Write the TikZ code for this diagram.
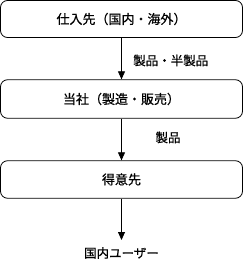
\documentclass[tikz,border=0pt]{standalone}
\usepackage{fontspec}
\setmainfont{Noto Sans CJK JP}[FakeBold=0.6,AutoFakeBold=0.6]
\usetikzlibrary{arrows.meta}
\begin{document}
\begin{tikzpicture}[x=1pt,y=1pt,
  boxstyle/.style={draw=black,line width=0.8pt,rounded corners=7pt,minimum width=242pt,inner sep=0pt,font=\fontsize{13}{15}\bfseries\selectfont},
  flow/.style={draw=black,line width=0.8pt,-{Triangle[length=8pt,width=7pt]}},
  lbl/.style={font=\fontsize{12.5}{14}\bfseries\selectfont,inner sep=0pt}]
\useasboundingbox (0,0) rectangle (243,-261);
\node[boxstyle,minimum height=37pt] (b1) at (121.5,-19) {仕入先（国内・海外）};
\node[boxstyle,minimum height=38.5pt] (b2) at (121.5,-99) {当社（製造・販売）};
\node[boxstyle,minimum height=37.5pt] (b3) at (121.5,-179.5) {得意先};
\coordinate (end) at (121.5,-240);
\node[font=\fontsize{12.5}{14}\bfseries\selectfont,inner sep=0pt] (u) at (121.5,-253) {国内ユーザー};
\draw[flow] (b1.south) -- (b2.north);
\draw[flow] (b2.south) -- (b3.north);
\draw[flow] (b3.south) -- (end);
\node[lbl,anchor=west] (l1) at (133,-60.5) {製品・半製品};
\node[lbl] (l2) at (168,-137.5) {製品};
\end{tikzpicture}
\end{document}
